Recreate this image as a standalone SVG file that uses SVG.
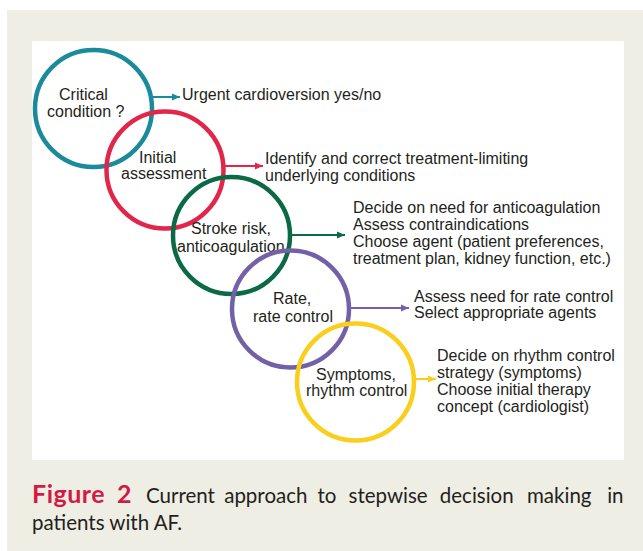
<svg xmlns="http://www.w3.org/2000/svg" width="643" height="551" viewBox="0 0 643 551">
<style>
.ring{fill:none;stroke-width:4.5}
.lbl{font-family:"Liberation Sans",Arial,sans-serif;font-size:16px;fill:#231f20}
.arr{stroke-width:2;fill:none}
.cap{font-family:Lato,"Open Sans",sans-serif;font-size:20.5px;fill:#231f20}
.fig{font-weight:bold;font-size:25px;letter-spacing:0.5px;fill:#d31a46}
</style>
<defs>
<marker id="mTeal" markerUnits="userSpaceOnUse" markerWidth="10" markerHeight="8" refX="8" refY="4" orient="auto"><path d="M0,0.5 L8,4 L0,7.5 Z" fill="#1b8a9b"/></marker>
<marker id="mRed" markerUnits="userSpaceOnUse" markerWidth="10" markerHeight="8" refX="8" refY="4" orient="auto"><path d="M0,0.5 L8,4 L0,7.5 Z" fill="#e1264a"/></marker>
<marker id="mGreen" markerUnits="userSpaceOnUse" markerWidth="10" markerHeight="8" refX="8" refY="4" orient="auto"><path d="M0,0.5 L8,4 L0,7.5 Z" fill="#0b6a45"/></marker>
<marker id="mPurple" markerUnits="userSpaceOnUse" markerWidth="10" markerHeight="8" refX="8" refY="4" orient="auto"><path d="M0,0.5 L8,4 L0,7.5 Z" fill="#7361a8"/></marker>
<marker id="mYellow" markerUnits="userSpaceOnUse" markerWidth="10" markerHeight="8" refX="8" refY="4" orient="auto"><path d="M0,0.5 L8,4 L0,7.5 Z" fill="#f9cf1b"/></marker>
</defs>
<rect x="0" y="0" width="643" height="551" fill="#ffffff"/>
<rect x="7" y="10" width="636" height="541" fill="#efeee4"/>
<rect x="32" y="41" width="592" height="419" fill="#ffffff"/>

<g id="connectors">
<line class="arr" x1="153" y1="97" x2="180" y2="97" stroke="#1b8a9b" marker-end="url(#mTeal)"/>
<line class="arr" x1="225" y1="166" x2="263" y2="166" stroke="#e1264a" marker-end="url(#mRed)"/>
<line class="arr" x1="292" y1="235" x2="345" y2="235" stroke="#0b6a45" marker-end="url(#mGreen)"/>
<line class="arr" x1="350" y1="308" x2="409" y2="308" stroke="#7361a8" marker-end="url(#mPurple)"/>
<line class="arr" x1="416" y1="379" x2="436" y2="379" stroke="#f9cf1b" marker-end="url(#mYellow)"/>
</g>

<g id="critical">
<circle class="ring" cx="93.5" cy="108.5" r="58.5" stroke="#1b8a9b"/>
<text class="lbl" x="59" y="100">Critical</text>
<text class="lbl" x="47" y="117">condition ?</text>
</g>
<g id="initial">
<circle class="ring" cx="165" cy="170" r="58.5" stroke="#e1264a"/>
<text class="lbl" x="139" y="163">Initial</text>
<text class="lbl" x="121" y="179">assessment</text>
</g>
<g id="stroke">
<circle class="ring" cx="231.5" cy="235.5" r="58.5" stroke="#0b6a45"/>
<text class="lbl" x="191" y="234">Stroke risk,</text>
<text class="lbl" x="177" y="252">anticoagulation</text>
</g>
<g id="rate">
<circle class="ring" cx="290.5" cy="309" r="58.5" stroke="#7361a8"/>
<text class="lbl" x="273" y="304">Rate,</text>
<text class="lbl" x="253" y="322">rate control</text>
</g>
<g id="symptoms">
<circle class="ring" cx="355.5" cy="382" r="58.5" stroke="#f9cf1b"/>
<text class="lbl" x="316" y="380">Symptoms,</text>
<text class="lbl" x="306" y="396">rhythm control</text>
</g>

<g id="out-critical">
<text class="lbl" x="182" y="100">Urgent cardioversion yes/no</text>
</g>
<g id="out-initial">
<text class="lbl" x="265" y="164">Identify and correct treatment-limiting</text>
<text class="lbl" x="265" y="181">underlying conditions</text>
</g>
<g id="out-stroke">
<text class="lbl" x="353" y="213">Decide on need for anticoagulation</text>
<text class="lbl" x="353" y="230">Assess contraindications</text>
<text class="lbl" x="353" y="247">Choose agent (patient preferences,</text>
<text class="lbl" x="353" y="264">treatment plan, kidney function, etc.)</text>
</g>
<g id="out-rate">
<text class="lbl" x="414" y="302">Assess need for rate control</text>
<text class="lbl" x="414" y="318">Select appropriate agents</text>
</g>
<g id="out-symptoms">
<text class="lbl" x="437" y="361">Decide on rhythm control</text>
<text class="lbl" x="437" y="378">strategy (symptoms)</text>
<text class="lbl" x="437" y="395">Choose initial therapy</text>
<text class="lbl" x="437" y="412">concept (cardiologist)</text>
</g>

<g id="caption">
<text class="cap" y="503"><tspan class="fig" x="32">Figure</tspan><tspan class="fig" x="117">2</tspan><tspan x="146">Current</tspan><tspan x="224.2">approach</tspan><tspan x="317.4">to</tspan><tspan x="348.6">stepwise</tspan><tspan x="439.8">decision</tspan><tspan x="527">making</tspan><tspan x="607.2">in</tspan></text>
<text class="cap" x="32" y="530">patients with AF.</text>
</g>
</svg>
